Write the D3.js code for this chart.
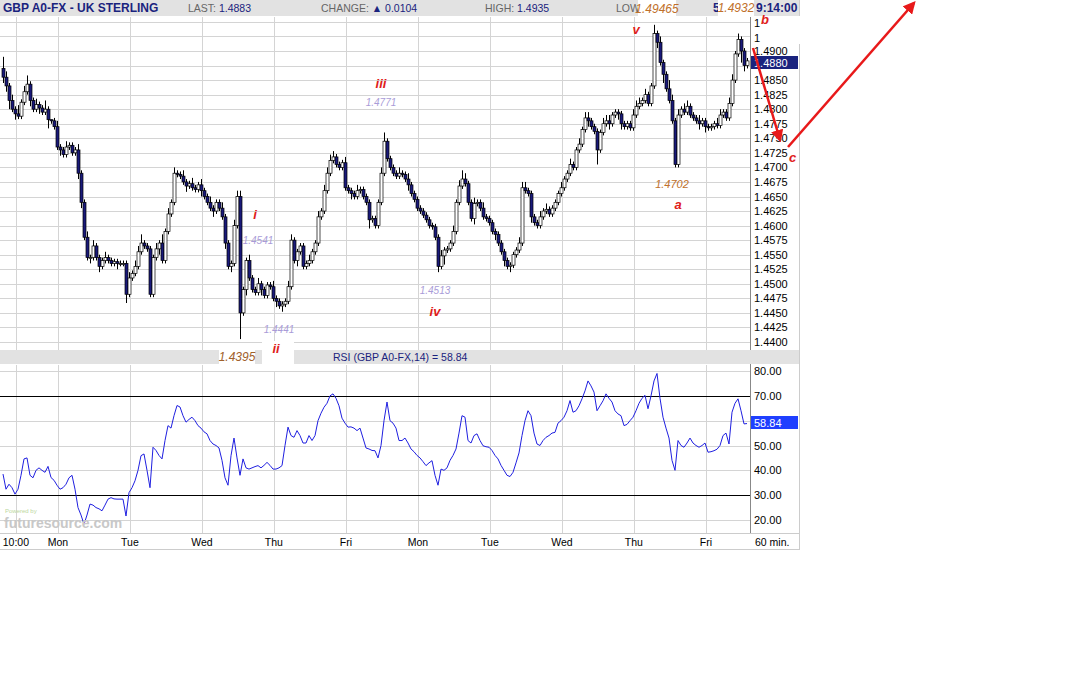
<!DOCTYPE html>
<style>
body { margin: 0; background: #fff; }
text { font-family: "Liberation Sans", Arial, sans-serif; }
</style>
<svg width="1091" height="695"></svg>
<script src="https://d3js.org/d3.v7.min.js"></script>
<script>
// hourly closes, one per bar
var closes = [
  1.4855,1.4840,1.4815,1.4800,1.4792,1.4788,1.4812,1.4830,1.4843,1.4815,1.4800,1.4808,1.4802,1.4795,1.4800,1.4782,1.4780,1.4770,1.4735,1.4730,1.4722,1.4735,1.4738,1.4725,
  1.4730,1.4690,1.4640,1.4580,1.4545,1.4545,1.4565,1.4545,1.4530,1.4540,1.4545,1.4540,1.4535,1.4538,1.4535,1.4535,1.4535,1.4482,1.4510,1.4518,1.4530,1.4555,1.4570,1.4565,
  1.4560,1.4482,1.4545,1.4560,1.4570,1.4540,1.4590,1.4620,1.4640,1.4690,1.4688,1.4685,1.4675,1.4668,1.4672,1.4665,1.4662,1.4670,1.4660,1.4650,1.4640,1.4630,1.4625,1.4640,
  1.4630,1.4615,1.4570,1.4530,1.4535,1.4600,1.4650,1.4450,1.4490,1.4540,1.4510,1.4490,1.4485,1.4500,1.4490,1.4480,1.4498,1.4495,1.4475,1.4470,1.4462,1.4465,1.4470,1.4495,
  1.4575,1.4540,1.4555,1.4565,1.4530,1.4535,1.4540,1.4555,1.4570,1.4615,1.4625,1.4660,1.4690,1.4712,1.4718,1.4705,1.4700,1.4708,1.4665,1.4660,1.4655,1.4650,1.4660,1.4662,
  1.4650,1.4640,1.4610,1.4612,1.4600,1.4640,1.4690,1.4745,1.4715,1.4700,1.4690,1.4685,1.4690,1.4688,1.4680,1.4670,1.4655,1.4645,1.4630,1.4625,1.4618,1.4610,1.4600,1.4598,
  1.4580,1.4530,1.4548,1.4558,1.4560,1.4570,1.4590,1.4640,1.4668,1.4680,1.4672,1.4640,1.4612,1.4638,1.4640,1.4630,1.4615,1.4612,1.4605,1.4590,1.4585,1.4570,1.4555,1.4540,
  1.4530,1.4532,1.4550,1.4558,1.4570,1.4665,1.4660,1.4655,1.4615,1.4605,1.4600,1.4615,1.4625,1.4628,1.4620,1.4630,1.4640,1.4655,1.4665,1.4680,1.4690,1.4705,1.4700,1.4730,
  1.4740,1.4765,1.4785,1.4780,1.4770,1.4762,1.4730,1.4760,1.4775,1.4780,1.4775,1.4790,1.4795,1.4792,1.4775,1.4770,1.4775,1.4768,1.4790,1.4805,1.4810,1.4815,1.4825,1.4810,
  1.4840,1.4930,1.4915,1.4880,1.4860,1.4835,1.4815,1.4780,1.4705,1.4790,1.4800,1.4795,1.4805,1.4790,1.4785,1.4780,1.4775,1.4780,1.4770,1.4768,1.4770,1.4775,1.4772,1.4790,
  1.4795,1.4785,1.4810,1.4850,1.4895,1.4920,1.4900,1.4875,1.4883
];
var firstOpen = 1.4870;
// wick lengths beyond the body, in 5-pip units
var wickHi = [
  4,2,1,2,1,3,1,2,3,1,1,2,1,1,3,1,0,1,2,1,1,2,1,1,
  1,2,1,1,2,1,2,1,1,1,2,1,1,1,1,1,1,1,2,1,2,2,3,1,
  1,1,1,2,1,3,1,2,1,2,1,1,2,1,1,2,1,1,2,1,1,2,1,1,
  1,2,1,1,1,2,2,2,1,1,2,1,1,2,1,1,1,1,2,1,1,1,1,2,
  2,1,1,1,1,1,2,1,1,2,1,2,2,2,2,1,1,1,2,1,1,1,2,1,
  1,1,1,1,1,1,2,3,1,1,1,1,2,1,1,2,1,1,1,1,1,1,1,1,
  1,1,2,1,1,1,2,1,2,3,2,1,1,2,1,1,2,1,1,1,1,1,1,1,
  1,1,1,1,2,2,2,1,1,1,1,2,1,2,1,1,1,1,2,1,1,2,1,1,
  2,1,2,2,1,1,1,1,2,2,2,1,1,1,1,1,1,1,2,2,2,1,2,1,
  1,3,1,2,1,1,3,2,1,2,1,2,2,1,1,1,2,1,1,1,1,1,2,2,
  1,1,2,2,1,2,1,1,1
];
var wickLo = [
  2,2,3,1,2,1,1,1,1,2,1,1,2,1,1,3,1,1,1,2,1,1,1,1,
  1,2,2,1,1,2,1,1,2,1,1,1,1,1,2,1,1,3,1,1,1,1,1,1,
  1,1,1,1,2,1,1,1,1,1,1,1,1,2,1,1,1,1,2,1,1,1,2,1,
  1,1,2,1,2,1,1,9,1,2,1,1,1,1,2,1,1,1,1,2,1,2,1,1,
  1,1,2,1,1,1,1,1,1,1,1,1,1,1,1,1,1,1,1,1,2,1,1,1,
  1,1,3,1,1,1,1,1,1,1,1,1,1,1,1,2,1,1,1,1,1,1,1,1,
  1,2,1,3,1,1,1,1,1,1,1,1,1,2,1,1,1,1,1,1,2,1,1,2,
  1,2,1,1,1,1,1,1,2,1,1,1,1,1,1,1,1,1,1,1,1,1,1,1,
  1,1,1,2,1,1,5,1,1,1,2,1,1,2,2,1,1,1,1,1,1,1,1,1,
  1,1,2,1,3,1,1,1,1,1,1,1,1,1,1,1,2,1,2,1,1,1,1,1,
  1,1,1,1,1,1,4,2,1
];
var rsi = [
  38.5,32.4,34.4,33,30.4,32.4,38,44.6,45,38,37,40,41,40,39.2,41.6,37.1,36,34,32.4,33,34.4,37,38,
  32.4,25,22,18.3,22,26.4,26,25,24.5,23.7,26,28.4,29,28.5,28.4,28.4,28.4,21.6,31,33,35.8,40,45.9,46.6,
  40,33,49.3,48,46,44.6,52,58,57,62,66.1,65.5,62,59.4,60.5,61.4,60,58,57,55.5,54.7,52,50.6,50,
  49,44,37,34,45.9,53,45,38,44.6,41,40.5,41,41.5,41.9,41,42,43.2,42,40.5,40.5,41,41.9,50,57.4,
  54,53.3,56,54,51,51,54,52,54,60,63,65.4,67,70,70.8,69,66,61,59,57.4,57.5,57,56,57,
  53,49,48.6,48,47.9,45,50,60,67.5,60,59,57,52,52,53,51,48.6,47.5,46,45,43.5,41.9,43,43.9,
  38,34,40.5,40,41,44,46,48.6,55,62,61.4,52,51,54,54.7,52,49.9,49.5,49.3,48,46,44.6,42,40,
  38,37.5,39.2,43,47,54,60,64,62,55,50.6,50,52,53.3,54,55,55.3,59,60,61.4,64,68.1,63.4,64,
  66,68.8,72,76,74,71.5,64,66,68,70.8,69,67.5,64,62.7,62,58,58.5,60,61.4,64,67,69,70.2,64.8,
  70,76,79,69,61.4,57,53,44,40,52,50,49.3,51,53,51,50,49.3,50,51,47.3,47.5,47.9,48.5,50,
  54,55,50.6,63.4,67,68.8,64,58.7,58.84
];
var dayLabels = ["10:00","Mon","Tue","Wed","Thu","Fri","Mon","Tue","Wed","Thu","Fri"];
var dayIdx = [4.3,18.3,42.3,66.3,90.3,114.3,138.3,162.3,186.3,210.3,234.3];
var priceTicks = d3.range(0, 23).map(function(k) { return 1.44 + k * 0.0025; });
var priceLabels = d3.range(0, 21).filter(function(k) { return k != 19; }).map(function(k) { return 1.44 + k * 0.0025; });
var rsiTicks = [20,30,40,50,60,70,80];
var rsiLabels = [20,30,40,50,70,80];
var waveLabels = [
  {t:"iii", i:126, p:1.4836, c:"#e0201a", s:13},
  {t:"1.4771", i:126, p:1.4806, c:"#a99cd8", s:10},
  {t:"i", i:84, p:1.4612, c:"#e0201a", s:13},
  {t:"1.4541", i:85, p:1.4569, c:"#a99cd8", s:10},
  {t:"1.4441", i:92, p:1.4416, c:"#a99cd8", s:10},
  {t:"1.4513", i:144, p:1.4483, c:"#a99cd8", s:10},
  {t:"iv", i:144, p:1.4445, c:"#e0201a", s:13},
  {t:"v", i:211, p:1.4929, c:"#e0201a", s:13},
  {t:"1.4702", i:223, p:1.4665, c:"#c0702a", s:11},
  {t:"a", i:225, p:1.4628, c:"#e0201a", s:13}
];

var svg = d3.select("svg");
var L = 0, R = 750;
var x = d3.scaleLinear().domain([0, closes.length - 1]).range([3, 747]);
var y = d3.scaleLinear().domain([1.44, 1.49]).range([342, 51]);
var yr = d3.scaleLinear().domain([20, 80]).range([520, 371]);

// header
svg.append("rect").attr("x", 0).attr("y", 0).attr("width", 800).attr("height", 16).attr("fill", "#e2e2e2");
svg.append("text").attr("x", 3).attr("y", 12).attr("font-size", 12).attr("font-weight", "bold").attr("fill", "#1a237e").text("GBP A0-FX - UK STERLING");
var hdr = [["LAST:", " 1.4883", 188], ["CHANGE:", " \u25B2 0.0104", 321], ["HIGH:", " 1.4935", 485], ["LOW", "", 616]];
hdr.forEach(function(h) {
  var t = svg.append("text").attr("x", h[2]).attr("y", 12).attr("font-size", 10.5);
  t.append("tspan").attr("fill", "#666").text(h[0]);
  t.append("tspan").attr("fill", "#1a237e").text(h[1]);
});
svg.append("text").attr("x", 713).attr("y", 12).attr("font-size", 12).attr("font-weight", "bold").attr("fill", "#1a237e").text("5");
svg.append("text").attr("x", 756).attr("y", 12).attr("font-size", 12).attr("font-weight", "bold").attr("fill", "#1a237e").text("9:14:00");

// grids
var grid = svg.append("g").attr("stroke", "#d4d4d4").attr("stroke-width", 1);
grid.selectAll(".hp").data(priceTicks).enter().append("line")
  .attr("x1", L).attr("x2", R).attr("y1", function(d) { return Math.round(y(d)) + 0.5; }).attr("y2", function(d) { return Math.round(y(d)) + 0.5; });
grid.selectAll(".vp").data(dayIdx).enter().append("line")
  .attr("x1", function(d) { return Math.round(x(d)) + 0.5; }).attr("x2", function(d) { return Math.round(x(d)) + 0.5; })
  .attr("y1", 17).attr("y2", 350);
grid.selectAll(".vr").data(dayIdx).enter().append("line")
  .attr("x1", function(d) { return Math.round(x(d)) + 0.5; }).attr("x2", function(d) { return Math.round(x(d)) + 0.5; })
  .attr("y1", 365).attr("y2", 533);
grid.selectAll(".hr").data(rsiTicks.filter(function(d) { return d != 30 && d != 70; })).enter().append("line")
  .attr("x1", L).attr("x2", R).attr("y1", function(d) { return Math.round(yr(d)) + 0.5; }).attr("y2", function(d) { return Math.round(yr(d)) + 0.5; });
svg.selectAll(".ob").data([30, 70]).enter().append("line").attr("stroke", "#000")
  .attr("x1", L).attr("x2", R).attr("y1", function(d) { return Math.round(yr(d)) + 0.5; }).attr("y2", function(d) { return Math.round(yr(d)) + 0.5; });

// candles
var bars = closes.map(function(c, i) {
  var o = i ? closes[i - 1] : firstOpen;
  return {i: i, o: o, c: c, h: Math.max(o, c) + wickHi[i] * 0.0005, l: Math.min(o, c) - wickLo[i] * 0.0005};
});
var cg = svg.append("g");
cg.selectAll("line").data(bars).enter().append("line").attr("stroke", "#000")
  .attr("x1", function(d) { return x(d.i) + 0.5; }).attr("x2", function(d) { return x(d.i) + 0.5; })
  .attr("y1", function(d) { return y(d.h); }).attr("y2", function(d) { return y(d.l); });
cg.selectAll("rect").data(bars).enter().append("rect")
  .attr("x", function(d) { return x(d.i) - 1; }).attr("width", 3)
  .attr("y", function(d) { return y(Math.max(d.o, d.c)); })
  .attr("height", function(d) { return Math.max(1, Math.abs(y(d.o) - y(d.c))); })
  .attr("fill", function(d) { return d.c >= d.o ? "#fff" : "#1a1a7a"; })
  .attr("stroke", "#000").attr("stroke-width", 0.7);

// price axis
svg.append("line").attr("x1", 750.5).attr("x2", 750.5).attr("y1", 17).attr("y2", 350).attr("stroke", "#888");
svg.append("g").selectAll("text").data(priceLabels).enter().append("text")
  .attr("x", 754).attr("y", function(d) { return y(d) + 4; }).attr("font-size", 11).attr("fill", "#000")
  .text(function(d) { return d.toFixed(4); });
svg.append("rect").attr("x", 751).attr("y", 56).attr("width", 47).attr("height", 13).attr("fill", "#1a237e");
svg.append("text").attr("x", 754).attr("y", 67).attr("font-size", 11).attr("fill", "#fff").text("1.4880");

// rsi separator
svg.append("rect").attr("x", 0).attr("y", 350).attr("width", 800).attr("height", 14).attr("fill", "#e2e2e2");
svg.append("text").attr("x", 333).attr("y", 361).attr("font-size", 10.5).attr("fill", "#1a237e").text("RSI (GBP A0-FX,14) = 58.84");

// rsi line
svg.append("path").datum(rsi).attr("fill", "none").attr("stroke", "#1f1fe0").attr("stroke-width", 1)
  .attr("d", d3.line().x(function(d, i) { return x(i); }).y(function(d) { return yr(d); }));
svg.append("line").attr("x1", 750.5).attr("x2", 750.5).attr("y1", 364).attr("y2", 533).attr("stroke", "#888");
svg.append("g").selectAll("text").data(rsiLabels).enter().append("text")
  .attr("x", 754).attr("y", function(d) { return yr(d) + 4; }).attr("font-size", 11)
  .text(function(d) { return d.toFixed(2); });
svg.append("rect").attr("x", 751).attr("y", 416).attr("width", 47).attr("height", 13).attr("fill", "#1f3fff");
svg.append("text").attr("x", 754).attr("y", 427).attr("font-size", 11).attr("fill", "#fff").text("58.84");

// time axis
svg.append("line").attr("x1", 0).attr("x2", 800).attr("y1", 533.5).attr("y2", 533.5).attr("stroke", "#ccc");
svg.append("g").selectAll("text").data(dayLabels).enter().append("text")
  .attr("x", function(d, k) { return x(dayIdx[k]); }).attr("y", 546).attr("font-size", 10.5).attr("text-anchor", "middle")
  .text(function(d) { return d; });
svg.append("text").attr("x", 755).attr("y", 546).attr("font-size", 10.5).text("60 min.");
svg.append("line").attr("x1", 0).attr("x2", 800).attr("y1", 549.5).attr("y2", 549.5).attr("stroke", "#ccc");
svg.append("line").attr("x1", 799.5).attr("x2", 799.5).attr("y1", 0).attr("y2", 550).attr("stroke", "#ccc");

// watermark
svg.append("text").attr("x", 5).attr("y", 513).attr("font-size", 6).attr("fill", "#bcd8a0").text("Powered by");
svg.append("text").attr("x", 4).attr("y", 528).attr("font-size", 14).attr("fill", "#c8c8c8").attr("font-weight", "bold").text("futuresource.com");

// annotations
var serif = "Liberation Serif, serif";
var ann = svg.append("g");
waveLabels.forEach(function(w) {
  var t = ann.append("text").attr("x", x(w.i)).attr("y", y(w.p)).attr("text-anchor", "middle")
    .attr("font-family", serif).attr("font-style", "italic").attr("font-size", w.s)
    .attr("fill", w.c).text(w.t);
  if (w.s > 12) t.attr("font-weight", "bold");
});
// white boxes around low/high price notes
ann.append("rect").attr("x", 219).attr("y", 346).attr("width", 36).attr("height", 20).attr("fill", "#fff");
ann.append("text").attr("x", 237).attr("y", 361).attr("text-anchor", "middle").attr("font-family", serif).attr("font-style", "italic").attr("font-size", 12).attr("fill", "#a0602a").text("1.4395");
ann.append("rect").attr("x", 262).attr("y", 341).attr("width", 32).attr("height", 30).attr("fill", "#fff");
ann.append("text").attr("x", 276).attr("y", 353).attr("text-anchor", "middle").attr("font-family", serif).attr("font-style", "italic").attr("font-weight", "bold").attr("font-size", 13).attr("fill", "#e0201a").text("ii");
ann.append("rect").attr("x", 638).attr("y", 0).attr("width", 38).attr("height", 16).attr("fill", "#fff");
ann.append("text").attr("x", 657).attr("y", 13).attr("text-anchor", "middle").attr("font-family", serif).attr("font-style", "italic").attr("font-size", 12).attr("fill", "#c0702a").text("1.49465");
ann.append("rect").attr("x", 718).attr("y", 0).attr("width", 36).attr("height", 16).attr("fill", "#fff");
ann.append("text").attr("x", 736).attr("y", 12).attr("text-anchor", "middle").attr("font-family", serif).attr("font-style", "italic").attr("font-size", 12).attr("fill", "#c0702a").text("1.4932");
ann.append("rect").attr("x", 751).attr("y", 16).attr("width", 49).attr("height", 28).attr("fill", "#fff");
ann.append("text").attr("x", 754).attr("y", 27).attr("font-size", 11).text("1");
ann.append("text").attr("x", 754).attr("y", 42).attr("font-size", 11).text("1");
ann.append("text").attr("x", 761).attr("y", 24).attr("font-family", serif).attr("font-style", "italic").attr("font-weight", "bold").attr("font-size", 13).attr("fill", "#e0201a").text("b");
ann.append("text").attr("x", 789).attr("y", 162).attr("font-family", serif).attr("font-style", "italic").attr("font-weight", "bold").attr("font-size", 13).attr("fill", "#e0201a").text("c");

// hand-drawn arrows
svg.append("defs").append("marker").attr("id", "ah").attr("viewBox", "0 0 10 10").attr("refX", 8).attr("refY", 5)
  .attr("markerWidth", 5).attr("markerHeight", 5).attr("orient", "auto")
  .append("path").attr("d", "M0,0L10,5L0,10z").attr("fill", "#e8191a");
svg.append("line").attr("x1", 753).attr("y1", 48).attr("x2", 780).attr("y2", 140).attr("stroke", "#e8191a").attr("stroke-width", 2.5).attr("marker-end", "url(#ah)");
svg.append("line").attr("x1", 788).attr("y1", 147).attr("x2", 914).attr("y2", 3).attr("stroke", "#e8191a").attr("stroke-width", 2.5).attr("marker-end", "url(#ah)");
</script>
